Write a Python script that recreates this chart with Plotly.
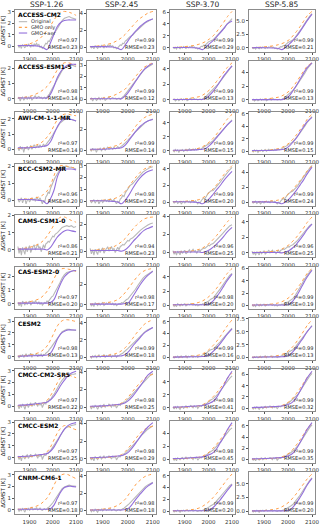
import plotly.graph_objects as go

SCENARIOS = ["SSP-1.26", "SSP-2.45", "SSP-3.70", "SSP-5.85"]
HIST_YEARS = list(range(1850, 2011, 5))
FUT_YEARS = list(range(2020, 2101, 10))
FIT_YEARS = [1850, 1900, 1940, 1960, 1975, 1990, 2005, 2020, 2035, 2050, 2065, 2080, 2100]
X_TICKS = [1900, 2000, 2100]

# ---------------- ACCESS-CM2 ----------------
ACCESS_CM2_ORIG_HIST = [0.1, -0.1, 0.05, -0.2, 0.15, 0.0, -0.15, 0.1, -0.05, 0.2, 0.05, -0.1, 0.15, 0.0, 0.2, 0.1, 0.25,
                        0.05, 0.15, -0.1, 0.0, -0.2, -0.1, 0.05, 0.25, 0.2, 0.45, 0.4, 0.7, 0.8, 1.0, 1.1, 1.25]
ACCESS_CM2_ORIG_FUT = [[1.55, 1.95, 2.25, 2.45, 2.55, 2.6, 2.5, 2.45, 2.35],
                       [1.4, 1.75, 2.05, 2.35, 2.6, 2.85, 3.0, 3.2, 3.35],
                       [1.35, 1.75, 2.15, 2.6, 3.0, 3.5, 4.0, 4.5, 4.9],
                       [1.45, 1.95, 2.5, 3.1, 3.8, 4.5, 5.2, 5.8, 6.3]]
ACCESS_CM2_GMO = [[0.05, 0.2, 0.6, 1.0, 1.4, 1.8, 2.3, 2.7, 3.0, 3.05, 3.0, 2.9, 2.7],
                  [0.05, 0.2, 0.5, 0.8, 1.1, 1.5, 2.0, 2.5, 3.0, 3.4, 3.7, 4.0, 4.2],
                  [0.05, 0.2, 0.4, 0.6, 0.8, 1.1, 1.5, 2.0, 2.7, 3.5, 4.3, 5.2, 6.1],
                  [0.05, 0.2, 0.4, 0.6, 0.8, 1.1, 1.5, 2.2, 3.0, 3.9, 4.9, 5.9, 6.7]]
ACCESS_CM2_AER = [[0.05, 0.05, 0.0, -0.15, -0.3, 0.3, 1.05, 1.75, 2.1, 2.25, 2.3, 2.3, 2.3],
                  [0.05, 0.05, 0.0, -0.15, -0.3, 0.25, 0.9, 1.5, 2.0, 2.45, 2.8, 3.1, 3.3],
                  [0.05, 0.05, 0.0, -0.1, -0.3, 0.15, 0.7, 1.2, 1.85, 2.5, 3.2, 4.0, 4.5],
                  [0.05, 0.05, 0.0, -0.1, -0.3, 0.15, 0.7, 1.35, 2.1, 3.0, 4.0, 5.0, 6.2]]
ACCESS_CM2_R2 = [0.97, 0.99, 0.99, 0.99]
ACCESS_CM2_RMSE = [0.23, 0.23, 0.29, 0.21]
ACCESS_CM2_DTICK = [1, 2, 2, 2.5]

# ---------------- ACCESS-ESM1-5 ----------------
ACCESS_ESM_ORIG_HIST = [0.0, 0.1, -0.15, 0.05, 0.1, -0.1, 0.0, 0.15, -0.05, 0.1, 0.0, 0.15, -0.1, 0.05, 0.1, 0.2, 0.0,
                        0.1, 0.15, 0.05, 0.1, 0.0, 0.05, 0.1, 0.0, 0.15, 0.2, 0.3, 0.45, 0.55, 0.7, 0.85, 1.0]
ACCESS_ESM_ORIG_FUT = [[1.3, 1.6, 1.85, 2.0, 2.1, 2.15, 2.2, 2.15, 2.1],
                       [1.3, 1.6, 1.95, 2.2, 2.45, 2.7, 2.85, 3.0, 3.1],
                       [1.3, 1.6, 2.0, 2.4, 2.8, 3.2, 3.6, 4.0, 4.4],
                       [1.4, 1.8, 2.3, 2.8, 3.4, 3.9, 4.5, 5.0, 5.4]]
ACCESS_ESM_GMO = [[0.05, 0.15, 0.4, 0.6, 0.8, 1.1, 1.5, 1.9, 2.2, 2.35, 2.35, 2.3, 2.2],
                  [0.05, 0.1, 0.3, 0.5, 0.7, 0.9, 1.3, 1.7, 2.1, 2.5, 2.8, 3.0, 3.2],
                  [0.05, 0.1, 0.3, 0.4, 0.6, 0.9, 1.3, 1.8, 2.4, 3.0, 3.6, 4.2, 4.8],
                  [0.05, 0.1, 0.3, 0.4, 0.6, 0.9, 1.3, 1.9, 2.6, 3.4, 4.2, 4.9, 5.4]]
ACCESS_ESM_AER = [[0.05, 0.05, 0.05, 0.05, 0.05, 0.3, 0.8, 1.4, 1.8, 2.05, 2.2, 2.25, 2.25],
                  [0.05, 0.05, 0.05, 0.05, 0.05, 0.3, 0.7, 1.2, 1.7, 2.2, 2.6, 2.9, 3.15],
                  [0.05, 0.05, 0.05, 0.05, 0.05, 0.2, 0.6, 1.1, 1.7, 2.4, 3.1, 3.7, 4.4],
                  [0.05, 0.05, 0.05, 0.05, 0.05, 0.2, 0.6, 1.3, 2.1, 3.0, 3.9, 4.7, 5.4]]
ACCESS_ESM_R2 = [0.98, 0.99, 0.99, 0.99]
ACCESS_ESM_RMSE = [0.14, 0.12, 0.13, 0.13]
ACCESS_ESM_DTICK = [1, 1, 2, 2]

# ---------------- AWI-CM-1-1-MR ----------------
AWI_ORIG_HIST = [0.1, -0.1, 0.2, 0.0, 0.15, -0.2, 0.1, 0.05, 0.2, -0.05, 0.1, 0.25, 0.0, 0.15, 0.3, 0.1, 0.2,
                 0.25, 0.1, 0.3, 0.15, 0.2, 0.35, 0.2, 0.3, 0.45, 0.5, 0.6, 0.7, 0.85, 0.95, 1.1, 1.2]
AWI_ORIG_FUT = [[1.45, 1.7, 1.85, 1.95, 2.0, 2.0, 1.95, 1.9, 1.85],
                [1.45, 1.75, 2.0, 2.25, 2.45, 2.65, 2.8, 2.9, 3.0],
                [1.45, 1.8, 2.1, 2.5, 2.9, 3.3, 3.7, 4.0, 4.4],
                [1.5, 1.9, 2.4, 2.9, 3.4, 4.0, 4.6, 5.1, 5.5]]
AWI_GMO = [[0.05, 0.15, 0.35, 0.55, 0.8, 1.1, 1.55, 1.95, 2.2, 2.3, 2.3, 2.25, 2.2],
           [0.05, 0.15, 0.35, 0.5, 0.7, 1.0, 1.4, 1.9, 2.4, 2.8, 3.1, 3.3, 3.45],
           [0.05, 0.1, 0.25, 0.4, 0.6, 0.9, 1.3, 1.8, 2.4, 3.1, 3.8, 4.5, 5.2],
           [0.05, 0.1, 0.25, 0.4, 0.6, 0.9, 1.3, 1.9, 2.6, 3.4, 4.2, 5.1, 5.9]]
AWI_AER = [[0.1, 0.1, 0.15, 0.2, 0.25, 0.5, 1.0, 1.5, 1.85, 2.0, 2.0, 1.95, 1.85],
           [0.1, 0.1, 0.15, 0.2, 0.25, 0.5, 0.95, 1.45, 1.9, 2.3, 2.6, 2.8, 2.95],
           [0.1, 0.1, 0.15, 0.2, 0.25, 0.4, 0.8, 1.3, 1.9, 2.5, 3.1, 3.7, 4.3],
           [0.1, 0.1, 0.15, 0.2, 0.25, 0.4, 0.8, 1.4, 2.1, 3.0, 3.9, 4.7, 5.4]]
AWI_R2 = [0.97, 0.99, 0.99, 0.99]
AWI_RMSE = [0.14, 0.14, 0.15, 0.15]
AWI_DTICK = [1, 2, 2, 2]

# ---------------- BCC-CSM2-MR ----------------
BCC_ORIG_HIST = [0.1, -0.1, 0.0, 0.15, -0.15, 0.05, 0.1, -0.2, 0.0, 0.1, -0.1, 0.05, 0.15, 0.0, 0.1, -0.05, 0.2,
                 0.1, 0.0, 0.15, -0.1, -0.2, 0.0, -0.1, 0.2, 0.3, 0.5, 0.4, 0.7, 0.9, 1.1, 1.2, 1.35]
BCC_ORIG_FUT = [[1.6, 1.8, 1.95, 2.0, 2.0, 1.95, 1.95, 1.9, 1.85],
                [1.5, 1.75, 2.0, 2.25, 2.45, 2.6, 2.75, 2.85, 2.9],
                [1.4, 1.7, 2.0, 2.4, 2.8, 3.2, 3.6, 3.9, 4.2],
                [1.5, 1.85, 2.2, 2.7, 3.2, 3.7, 4.1, 4.5, 4.9]]
BCC_GMO = [[0.05, 0.1, 0.2, 0.35, 0.55, 0.9, 1.45, 1.95, 2.05, 2.05, 2.0, 1.95, 1.9],
           [0.05, 0.1, 0.2, 0.35, 0.55, 0.85, 1.25, 1.7, 2.1, 2.45, 2.7, 2.85, 3.0],
           [0.05, 0.1, 0.2, 0.3, 0.5, 0.8, 1.2, 1.6, 2.1, 2.7, 3.3, 3.8, 4.4],
           [0.05, 0.1, 0.2, 0.3, 0.5, 0.8, 1.2, 1.7, 2.3, 2.9, 3.5, 4.2, 4.9]]
BCC_AER = [[0.05, 0.05, 0.0, -0.05, -0.2, 0.1, 0.6, 1.4, 1.8, 1.85, 1.85, 1.85, 1.8],
           [0.05, 0.05, 0.0, -0.05, -0.2, 0.1, 0.55, 1.1, 1.6, 2.0, 2.3, 2.5, 2.65],
           [0.05, 0.05, 0.0, -0.05, -0.2, 0.05, 0.45, 0.95, 1.5, 2.0, 2.6, 3.1, 3.7],
           [0.05, 0.05, 0.0, -0.05, -0.2, 0.05, 0.45, 1.0, 1.6, 2.3, 3.0, 3.8, 4.7]]
BCC_R2 = [0.96, 0.98, 0.99, 0.99]
BCC_RMSE = [0.20, 0.22, 0.20, 0.24]
BCC_DTICK = [1, 1, 2, 2]

# ---------------- CAMS-CSM1-0 ----------------
CAMS_ORIG_HIST = [0.2, -0.2, 0.1, -0.3, 0.15, 0.0, -0.25, 0.2, -0.1, 0.1, 0.25, -0.15, 0.05, 0.2, 0.3, 0.0, 0.15,
                  0.35, 0.1, 0.2, -0.1, 0.15, 0.3, 0.1, 0.35, 0.4, 0.5, 0.45, 0.6, 0.7, 0.8, 0.75, 0.9]
CAMS_ORIG_FUT = [[1.0, 1.15, 1.3, 1.35, 1.4, 1.35, 1.4, 1.3, 1.35],
                 [1.0, 1.2, 1.4, 1.55, 1.7, 1.85, 1.95, 2.05, 2.1],
                 [1.0, 1.25, 1.5, 1.8, 2.1, 2.4, 2.7, 2.95, 3.1],
                 [1.05, 1.3, 1.6, 2.0, 2.4, 2.8, 3.2, 3.5, 3.7]]
CAMS_GMO = [[0.05, 0.15, 0.35, 0.55, 0.8, 1.1, 1.45, 1.75, 1.9, 1.9, 1.8, 1.7, 1.6],
            [0.05, 0.15, 0.3, 0.5, 0.7, 0.95, 1.3, 1.65, 1.95, 2.2, 2.4, 2.5, 2.55],
            [0.05, 0.1, 0.2, 0.35, 0.5, 0.75, 1.05, 1.45, 1.9, 2.4, 2.9, 3.4, 3.95],
            [0.05, 0.1, 0.2, 0.35, 0.5, 0.75, 1.05, 1.5, 2.0, 2.6, 3.2, 3.9, 4.6]]
CAMS_AER = [[0.05, 0.05, 0.05, 0.05, 0.0, 0.15, 0.45, 0.75, 0.95, 1.1, 1.15, 1.1, 1.05],
            [0.05, 0.05, 0.05, 0.05, 0.0, 0.1, 0.35, 0.7, 1.0, 1.3, 1.55, 1.7, 1.85],
            [0.05, 0.05, 0.05, 0.05, 0.0, 0.1, 0.3, 0.6, 0.95, 1.35, 1.8, 2.3, 2.8],
            [0.05, 0.05, 0.05, 0.05, 0.0, 0.1, 0.3, 0.65, 1.1, 1.7, 2.3, 3.0, 3.7]]
CAMS_R2 = [0.86, 0.94, 0.96, 0.96]
CAMS_RMSE = [0.21, 0.23, 0.25, 0.25]
CAMS_DTICK = [1, 1, 2, 2]

# ---------------- CAS-ESM2-0 ----------------
CAS_ORIG_HIST = [0.1, -0.15, 0.05, -0.2, 0.2, 0.0, -0.1, 0.15, -0.05, 0.1, 0.2, -0.1, 0.0, 0.15, 0.05, 0.2, 0.1,
                 0.0, 0.15, -0.05, 0.1, -0.1, 0.0, 0.1, 0.05, 0.2, 0.15, 0.3, 0.4, 0.5, 0.55, 0.7, 0.85]
CAS_ORIG_FUT = [[1.1, 1.5, 1.85, 2.1, 2.25, 2.3, 2.35, 2.4, 2.35],
                [1.1, 1.5, 1.9, 2.3, 2.6, 2.85, 3.0, 3.2, 3.35],
                [1.0, 1.4, 1.8, 2.3, 2.8, 3.3, 3.8, 4.2, 4.5],
                [1.1, 1.6, 2.2, 2.9, 3.6, 4.3, 4.9, 5.4, 5.8]]
CAS_GMO = [[0.05, 0.15, 0.35, 0.6, 0.9, 1.3, 1.8, 2.25, 2.5, 2.55, 2.5, 2.45, 2.35],
           [0.05, 0.15, 0.3, 0.5, 0.8, 1.2, 1.7, 2.2, 2.7, 3.1, 3.35, 3.5, 3.6],
           [0.05, 0.1, 0.25, 0.4, 0.6, 0.9, 1.3, 1.8, 2.4, 3.1, 3.8, 4.5, 5.2],
           [0.05, 0.1, 0.25, 0.4, 0.6, 0.9, 1.3, 1.9, 2.6, 3.4, 4.3, 5.2, 6.0]]
CAS_AER = [[0.05, 0.05, 0.05, 0.05, 0.05, 0.1, 0.3, 0.9, 1.5, 1.95, 2.2, 2.35, 2.4],
           [0.05, 0.05, 0.05, 0.05, 0.05, 0.1, 0.25, 0.8, 1.4, 2.0, 2.5, 2.9, 3.3],
           [0.05, 0.05, 0.05, 0.05, 0.05, 0.05, 0.2, 0.6, 1.2, 1.9, 2.7, 3.5, 4.4],
           [0.05, 0.05, 0.05, 0.05, 0.05, 0.05, 0.2, 0.7, 1.5, 2.5, 3.6, 4.6, 5.7]]
CAS_R2 = [0.97, 0.98, 0.98, 0.99]
CAS_RMSE = [0.20, 0.17, 0.20, 0.19]
CAS_DTICK = [1, 2, 2, 2]

# ---------------- CESM2 ----------------
CESM2_ORIG_HIST = [0.1, -0.1, 0.15, 0.0, 0.2, -0.05, 0.1, 0.25, 0.0, 0.15, 0.1, 0.3, -0.05, 0.2, 0.1, 0.15, 0.3,
                   0.0, 0.2, 0.1, 0.25, 0.0, 0.2, 0.15, 0.3, 0.35, 0.45, 0.6, 0.7, 0.85, 1.0, 1.15, 1.3]
CESM2_ORIG_FUT = [[1.6, 1.9, 2.1, 2.2, 2.3, 2.3, 2.25, 2.25, 2.2],
                  [1.5, 1.85, 2.15, 2.45, 2.75, 3.0, 3.2, 3.35, 3.45],
                  [1.4, 1.75, 2.1, 2.6, 3.1, 3.6, 4.1, 4.5, 4.9],
                  [1.5, 2.0, 2.6, 3.2, 3.9, 4.6, 5.2, 5.8, 6.2]]
CESM2_GMO = [[0.05, 0.15, 0.35, 0.6, 0.9, 1.4, 2.0, 2.6, 2.95, 3.1, 3.1, 3.05, 2.95],
             [0.05, 0.15, 0.3, 0.5, 0.75, 1.1, 1.6, 2.2, 2.8, 3.3, 3.8, 4.1, 4.35],
             [0.05, 0.1, 0.25, 0.4, 0.6, 0.9, 1.4, 2.0, 2.7, 3.5, 4.4, 5.3, 6.3],
             [0.05, 0.1, 0.25, 0.4, 0.6, 0.9, 1.4, 2.1, 3.0, 4.0, 5.1, 6.2, 7.3]]
CESM2_AER = [[0.05, 0.08, 0.1, 0.12, 0.15, 0.3, 0.8, 1.5, 1.95, 2.15, 2.25, 2.25, 2.25],
             [0.05, 0.08, 0.1, 0.12, 0.15, 0.3, 0.7, 1.3, 1.8, 2.3, 2.8, 3.1, 3.45],
             [0.05, 0.08, 0.1, 0.12, 0.15, 0.2, 0.5, 1.0, 1.6, 2.3, 3.1, 3.9, 4.8],
             [0.05, 0.08, 0.1, 0.12, 0.15, 0.2, 0.5, 1.1, 1.9, 2.9, 3.9, 5.0, 6.1]]
CESM2_R2 = [0.98, 0.99, 0.99, 0.99]
CESM2_RMSE = [0.13, 0.18, 0.16, 0.13]
CESM2_DTICK = [1, 2, 2, 2.5]

# ---------------- CMCC-CM2-SR5 ----------------
CMCC_CM2_ORIG_HIST = [0.1, -0.2, 0.15, -0.1, 0.2, 0.05, -0.25, 0.1, 0.2, -0.1, 0.15, 0.3, 0.0, 0.2, 0.1, 0.35, 0.2,
                      0.0, 0.3, 0.1, 0.25, -0.1, 0.15, 0.3, 0.2, 0.45, 0.4, 0.6, 0.55, 0.8, 0.9, 1.0, 1.2]
CMCC_CM2_ORIG_FUT = [[1.5, 1.9, 2.2, 2.4, 2.5, 2.6, 2.7, 2.7, 2.75],
                     [1.5, 1.8, 2.1, 2.4, 2.8, 3.1, 3.4, 3.6, 3.8],
                     [1.4, 1.7, 2.1, 2.6, 3.1, 3.6, 4.1, 4.5, 4.9],
                     [1.5, 1.9, 2.4, 3.0, 3.7, 4.4, 5.1, 5.7, 6.2]]
CMCC_CM2_GMO = [[0.05, 0.1, 0.2, 0.3, 0.5, 0.9, 1.4, 2.0, 2.45, 2.65, 2.65, 2.55, 2.4],
                [0.05, 0.1, 0.2, 0.3, 0.45, 0.8, 1.25, 1.8, 2.3, 2.8, 3.2, 3.5, 3.7],
                [0.05, 0.1, 0.2, 0.3, 0.45, 0.75, 1.15, 1.7, 2.3, 3.0, 3.7, 4.5, 5.3],
                [0.05, 0.1, 0.2, 0.3, 0.45, 0.75, 1.15, 1.8, 2.6, 3.5, 4.5, 5.5, 6.5]]
CMCC_CM2_AER = [[0.1, 0.15, 0.25, 0.3, 0.35, 0.55, 0.85, 1.3, 1.8, 2.2, 2.55, 2.8, 2.95],
                [0.1, 0.15, 0.25, 0.3, 0.35, 0.5, 0.8, 1.25, 1.8, 2.4, 3.0, 3.6, 4.05],
                [0.1, 0.15, 0.25, 0.3, 0.35, 0.5, 0.7, 1.0, 1.6, 2.5, 3.4, 4.5, 5.6],
                [0.1, 0.15, 0.25, 0.3, 0.35, 0.5, 0.7, 1.1, 1.9, 3.0, 4.2, 5.4, 6.6]]
CMCC_CM2_R2 = [0.97, 0.98, 0.98, 0.99]
CMCC_CM2_RMSE = [0.22, 0.25, 0.41, 0.32]
CMCC_CM2_DTICK = [1, 2, 2, 2]

# ---------------- CMCC-ESM2 ----------------
CMCC_ESM2_ORIG_HIST = [0.15, -0.15, 0.1, -0.25, 0.2, 0.0, -0.1, 0.15, 0.25, -0.05, 0.1, 0.3, 0.05, 0.2, 0.15, 0.3, 0.2,
                       -0.05, 0.25, 0.1, 0.3, -0.15, 0.1, 0.25, 0.2, 0.4, 0.35, 0.55, 0.6, 0.75, 0.85, 1.0, 1.15]
CMCC_ESM2_ORIG_FUT = [[1.5, 1.85, 2.15, 2.4, 2.55, 2.65, 2.7, 2.75, 2.8],
                      [1.5, 1.8, 2.1, 2.5, 2.8, 3.1, 3.35, 3.55, 3.75],
                      [1.4, 1.75, 2.1, 2.6, 3.1, 3.6, 4.1, 4.5, 4.8],
                      [1.5, 1.9, 2.4, 3.0, 3.7, 4.4, 5.1, 5.7, 6.2]]
CMCC_ESM2_GMO = [[0.05, 0.1, 0.2, 0.3, 0.5, 0.9, 1.5, 2.1, 2.5, 2.7, 2.65, 2.5, 2.35],
                 [0.05, 0.1, 0.2, 0.3, 0.45, 0.8, 1.3, 1.8, 2.4, 2.9, 3.3, 3.5, 3.7],
                 [0.05, 0.1, 0.2, 0.3, 0.45, 0.75, 1.15, 1.7, 2.3, 3.0, 3.7, 4.4, 5.2],
                 [0.05, 0.1, 0.2, 0.3, 0.45, 0.75, 1.15, 1.8, 2.6, 3.5, 4.5, 5.5, 6.5]]
CMCC_ESM2_AER = [[0.1, 0.15, 0.25, 0.3, 0.35, 0.55, 0.9, 1.4, 1.95, 2.4, 2.7, 2.85, 2.95],
                 [0.1, 0.15, 0.25, 0.3, 0.35, 0.5, 0.8, 1.3, 1.9, 2.5, 3.1, 3.6, 4.1],
                 [0.1, 0.15, 0.25, 0.3, 0.35, 0.5, 0.7, 1.0, 1.6, 2.5, 3.4, 4.5, 5.6],
                 [0.1, 0.15, 0.25, 0.3, 0.35, 0.5, 0.7, 1.1, 1.9, 3.0, 4.2, 5.4, 6.6]]
CMCC_ESM2_R2 = [0.97, 0.98, 0.98, 0.99]
CMCC_ESM2_RMSE = [0.25, 0.29, 0.45, 0.35]
CMCC_ESM2_DTICK = [1, 2, 2, 2]

# ---------------- CNRM-CM6-1 ----------------
CNRM_ORIG_HIST = [0.1, -0.15, 0.05, -0.1, 0.15, 0.0, -0.2, 0.1, 0.0, 0.15, -0.05, 0.1, 0.2, 0.0, 0.1, 0.05, 0.2,
                  0.0, 0.1, 0.15, 0.0, -0.05, 0.05, 0.1, 0.0, 0.15, 0.2, 0.25, 0.35, 0.45, 0.6, 0.75, 0.9]
CNRM_ORIG_FUT = [[1.2, 1.55, 1.8, 1.95, 2.05, 2.1, 2.05, 2.0, 2.0],
                 [1.2, 1.55, 1.9, 2.2, 2.5, 2.75, 2.95, 3.1, 3.25],
                 [1.1, 1.5, 1.9, 2.4, 2.9, 3.4, 3.9, 4.3, 4.6],
                 [1.2, 1.7, 2.3, 2.9, 3.6, 4.3, 5.0, 5.6, 6.1]]
CNRM_GMO = [[0.05, 0.15, 0.4, 0.7, 1.0, 1.5, 2.1, 2.65, 2.95, 3.05, 3.0, 2.85, 2.65],
            [0.05, 0.15, 0.35, 0.6, 0.9, 1.3, 1.9, 2.5, 3.1, 3.5, 3.85, 4.05, 4.2],
            [0.05, 0.1, 0.3, 0.5, 0.8, 1.2, 1.7, 2.3, 3.0, 3.8, 4.6, 5.4, 6.3],
            [0.05, 0.1, 0.3, 0.5, 0.8, 1.2, 1.7, 2.4, 3.2, 4.1, 5.0, 5.9, 6.8]]
CNRM_AER = [[0.05, 0.05, 0.05, 0.05, 0.05, 0.1, 0.4, 1.0, 1.55, 1.9, 2.0, 2.0, 1.95],
            [0.05, 0.05, 0.05, 0.05, 0.05, 0.1, 0.3, 0.8, 1.4, 1.9, 2.4, 2.8, 3.2],
            [0.05, 0.05, 0.05, 0.05, 0.05, 0.05, 0.2, 0.6, 1.2, 1.9, 2.7, 3.5, 4.5],
            [0.05, 0.05, 0.05, 0.05, 0.05, 0.05, 0.2, 0.7, 1.5, 2.5, 3.6, 4.8, 6.0]]
CNRM_R2 = [0.97, 0.98, 0.99, 0.99]
CNRM_RMSE = [0.18, 0.18, 0.20, 0.20]
CNRM_DTICK = [1, 2, 2, 2.5]

MODELS = [
    ("ACCESS-CM2", ACCESS_CM2_ORIG_HIST, ACCESS_CM2_ORIG_FUT, ACCESS_CM2_GMO, ACCESS_CM2_AER, ACCESS_CM2_R2, ACCESS_CM2_RMSE, ACCESS_CM2_DTICK),
    ("ACCESS-ESM1-5", ACCESS_ESM_ORIG_HIST, ACCESS_ESM_ORIG_FUT, ACCESS_ESM_GMO, ACCESS_ESM_AER, ACCESS_ESM_R2, ACCESS_ESM_RMSE, ACCESS_ESM_DTICK),
    ("AWI-CM-1-1-MR", AWI_ORIG_HIST, AWI_ORIG_FUT, AWI_GMO, AWI_AER, AWI_R2, AWI_RMSE, AWI_DTICK),
    ("BCC-CSM2-MR", BCC_ORIG_HIST, BCC_ORIG_FUT, BCC_GMO, BCC_AER, BCC_R2, BCC_RMSE, BCC_DTICK),
    ("CAMS-CSM1-0", CAMS_ORIG_HIST, CAMS_ORIG_FUT, CAMS_GMO, CAMS_AER, CAMS_R2, CAMS_RMSE, CAMS_DTICK),
    ("CAS-ESM2-0", CAS_ORIG_HIST, CAS_ORIG_FUT, CAS_GMO, CAS_AER, CAS_R2, CAS_RMSE, CAS_DTICK),
    ("CESM2", CESM2_ORIG_HIST, CESM2_ORIG_FUT, CESM2_GMO, CESM2_AER, CESM2_R2, CESM2_RMSE, CESM2_DTICK),
    ("CMCC-CM2-SR5", CMCC_CM2_ORIG_HIST, CMCC_CM2_ORIG_FUT, CMCC_CM2_GMO, CMCC_CM2_AER, CMCC_CM2_R2, CMCC_CM2_RMSE, CMCC_CM2_DTICK),
    ("CMCC-ESM2", CMCC_ESM2_ORIG_HIST, CMCC_ESM2_ORIG_FUT, CMCC_ESM2_GMO, CMCC_ESM2_AER, CMCC_ESM2_R2, CMCC_ESM2_RMSE, CMCC_ESM2_DTICK),
    ("CNRM-CM6-1", CNRM_ORIG_HIST, CNRM_ORIG_FUT, CNRM_GMO, CNRM_AER, CNRM_R2, CNRM_RMSE, CNRM_DTICK),
]

# ---------------- layout & styling ----------------
W, H = 320, 525
COL_PX = [(15, 79), (87, 156), (170, 235), (249, 315)]
ROW_TOP0, ROW_STEP, ROW_H = 9.5, 51.4, 42
FONT = "DejaVu Sans"
C_ORIG = "#b8b8b8"
C_GMO = "#ffa04a"
C_AER = "#9370db"
FRAME = "#8c8c8c"

fig = go.Figure()
layout_axes = {}
annotations = []
shapes = []

idx = 0
for r, (name, ohist, ofut, gmo, aer, r2s, rmses, dticks) in enumerate(MODELS):
    top = ROW_TOP0 + r * ROW_STEP
    bot = top + ROW_H
    for c in range(4):
        idx += 1
        xa = "x" if idx == 1 else f"x{idx}"
        ya = "y" if idx == 1 else f"y{idx}"
        orig_x = HIST_YEARS + FUT_YEARS
        orig_y = ohist + ofut[c]
        fig.add_trace(go.Scatter(x=orig_x, y=orig_y, mode="lines", xaxis=xa, yaxis=ya,
                                 line=dict(color=C_ORIG, width=1.1), showlegend=False, name="Original"))
        fig.add_trace(go.Scatter(x=FIT_YEARS, y=gmo[c], mode="lines", xaxis=xa, yaxis=ya,
                                 line=dict(color=C_GMO, width=1, dash="dot", shape="spline"),
                                 showlegend=False, name="GMO only"))
        fig.add_trace(go.Scatter(x=FIT_YEARS, y=aer[c], mode="lines", xaxis=xa, yaxis=ya,
                                 line=dict(color=C_AER, width=1.1, shape="spline"),
                                 showlegend=False, name="GMO+aer"))
        allv = orig_y + gmo[c] + aer[c]
        lo, hi = min(allv), max(allv)
        pad = 0.05 * (hi - lo)
        x0, x1 = COL_PX[c]
        key_x = "xaxis" if idx == 1 else f"xaxis{idx}"
        key_y = "yaxis" if idx == 1 else f"yaxis{idx}"
        axcommon = dict(showline=True, mirror=True, linecolor=FRAME, linewidth=1, ticks="outside",
                        ticklen=2, tickwidth=0.8, tickcolor="#555", showgrid=False, zeroline=False,
                        tickfont=dict(family=FONT, size=5.5, color="#333"), automargin=False)
        layout_axes[key_x] = dict(domain=[x0 / W, x1 / W], anchor=ya, range=[1837.5, 2112.5],
                                  tickvals=X_TICKS, ticktext=[str(v) for v in X_TICKS], **axcommon)
        ydict = dict(domain=[1 - bot / H, 1 - top / H], anchor=xa, range=[lo - pad, hi + pad],
                     tick0=0, dtick=dticks[c], tickformat=".1f" if dticks[c] % 1 else "d", **axcommon)
        if c == 0:
            ydict["title"] = dict(text="ΔGMST [K]", font=dict(family=FONT, size=5.5, color="#222"), standoff=2)
        layout_axes[key_y] = ydict

        dref_x = f"{xa} domain"
        dref_y = f"{ya} domain"
        if c == 0:
            annotations.append(dict(text=f"<b>{name}</b>", xref=dref_x, yref=dref_y, x=0.03, y=0.985,
                                    xanchor="left", yanchor="top", showarrow=False, borderpad=0,
                                    font=dict(family=FONT, size=6, color="#000")))
        annotations.append(dict(text=f"r²={r2s[c]:.2f}<br>RMSE={rmses[c]:.2f}", xref=dref_x, yref=dref_y,
                                x=0.985, y=0.01, xanchor="right", yanchor="bottom", align="right",
                                showarrow=False, borderpad=0, font=dict(family=FONT, size=5, color="#222")))
        if r == 0:
            annotations.append(dict(text=SCENARIOS[c], xref="paper", yref="paper",
                                    x=(x0 + x1) / 2 / W, y=1 - 5 / H, xanchor="center", yanchor="middle",
                                    showarrow=False, borderpad=0, font=dict(family=FONT, size=7.5, color="#222")))

# legend (inside first panel)
LEG_ITEMS = [("Original", C_ORIG, "solid"), ("GMO only", C_GMO, "dot"), ("GMO+aer", C_AER, "solid")]
for k, (lab, col, dash) in enumerate(LEG_ITEMS):
    yy = 0.71 - k * 0.135
    shapes.append(dict(type="line", xref="x domain", yref="y domain", x0=0.06, x1=0.19, y0=yy, y1=yy,
                       line=dict(color=col, width=1.1, dash=dash)))
    annotations.append(dict(text=lab, xref="x domain", yref="y domain", x=0.23, y=yy, xanchor="left",
                            yanchor="middle", showarrow=False, borderpad=0,
                            font=dict(family=FONT, size=5, color="#333")))

fig.update_layout(width=W, height=H, margin=dict(l=0, r=0, t=0, b=0), paper_bgcolor="white",
                  plot_bgcolor="white", showlegend=False, annotations=annotations, shapes=shapes,
                  font=dict(family=FONT), **layout_axes)

fig.write_html("out.html", config={"displayModeBar": False},
               post_script="document.body.style.margin='0';document.body.style.padding='0';"
                           "document.body.style.overflow='hidden';")
